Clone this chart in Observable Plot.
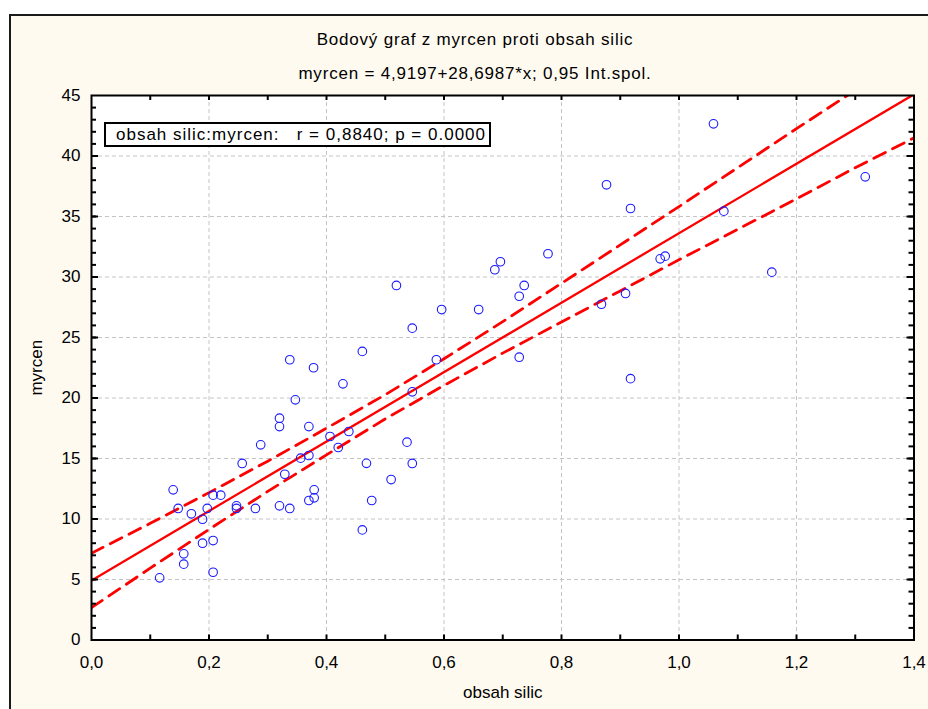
<!DOCTYPE html>
<html>
<head>
<meta charset="utf-8">
<script src="https://cdn.jsdelivr.net/npm/d3@7"></script>
<script src="https://cdn.jsdelivr.net/npm/@observablehq/plot@0.6"></script>
<style>
  html, body { margin: 0; padding: 0; background: #ffffff; }
  body { width: 928px; height: 709px; position: relative; overflow: hidden; font-family: "Liberation Sans", Arial, sans-serif; }
  #panel { position: absolute; left: 9px; top: 14px; width: 940px; height: 720px; background: #fffaf0; border-left: 2px solid #1a1a1a; border-top: 2px solid #1a1a1a; }
  .ttl { position: absolute; left: 0; width: 950px; text-align: center; font-size: 17px; line-height: 20px; letter-spacing: 0.8px; color: #000; }
  #chart { position: absolute; left: 0; top: 85px; }
  #legend { position: absolute; left: 104px; top: 122px; width: 383px; height: 21px; border: 2px solid #000; background: #fff; font-size: 17px; line-height: 21px; letter-spacing: 1px; white-space: pre; box-sizing: content-box; }
  #legend span { position: absolute; left: 10px; top: 0; }
</style>
</head>
<body>
<div id="panel"></div>
<div class="ttl" id="title" style="top:30px"></div>
<div class="ttl" id="subtitle" style="top:64px"></div>
<div id="chart"></div>
<div id="legend"><span id="legendText"></span></div>
<script>
// ---- data ----
const titleText = "Bodový graf z myrcen proti obsah silic";
const subtitleText = "myrcen = 4,9197+28,6987*x; 0,95 Int.spol.";
const legendText = "obsah silic:myrcen:   r = 0,8840; p = 0.0000";
const xLabel = "obsah silic";
const yLabel = "myrcen";

const obsahSilic = [0.116,0.139,0.1475,0.157,0.157,0.170,0.189,0.189,0.197,0.207,0.207,0.207,0.220,0.2468,0.2468,0.2565,0.279,0.288,0.320,0.320,0.320,0.329,0.3375,0.3375,0.347,0.356,0.370,0.370,0.370,0.378,0.379,0.379,0.406,0.420,0.428,0.438,0.461,0.461,0.468,0.477,0.510,0.519,0.537,0.546,0.546,0.546,0.587,0.596,0.659,0.6865,0.696,0.728,0.7365,0.728,0.777,0.868,0.8766,0.909,0.9175,0.9175,0.968,0.9765,1.0587,1.0763,1.158,1.317];
const myrcen     = [5.14,12.41,10.87,7.12,6.27,10.43,9.98,8.00,10.87,11.97,8.22,5.60,11.97,11.09,10.87,14.59,10.87,16.13,18.33,17.64,11.09,13.70,23.16,10.87,19.85,15.03,17.64,15.25,11.53,22.50,12.41,11.75,16.82,15.91,21.17,17.23,23.85,9.10,14.60,11.53,13.26,29.30,16.35,25.77,20.51,14.59,23.16,27.31,27.31,30.60,31.26,28.41,29.30,23.37,31.92,27.75,37.62,28.64,35.66,21.60,31.50,31.72,42.66,35.44,30.40,38.28];

// regression line (from the subtitle) and 0.95 confidence band
const intercept = 4.9197;
const slope = 28.6987;
const lineX = [0, 1.4];
const bandX     = [0, 0.1, 0.2, 0.3, 0.4, 0.5, 0.6, 0.7, 0.8, 0.9, 1.0, 1.1, 1.2, 1.3, 1.4];
const bandUpper = [7.17, 9.64, 12.18, 14.78, 17.50, 20.27, 23.24, 26.31, 29.48, 32.65, 35.82, 39.04, 42.26, 45.43, 48.70];
const bandLower = [2.67, 5.94, 9.14, 12.28, 15.30, 18.27, 21.04, 23.71, 26.28, 28.85, 31.42, 33.94, 36.46, 39.03, 41.50];

const xTickLabels = [0, 0.2, 0.4, 0.6, 0.8, 1.0, 1.2, 1.4];
const yTickLabels = [0, 5, 10, 15, 20, 25, 30, 35, 40, 45];
const xGrid = [0.2, 0.4, 0.6, 0.8, 1.0, 1.2];
const yGrid = [5, 10, 15, 20, 25, 30, 35, 40];
const xMinor = d3.range(1, 14).map(i => i / 10);
const yMinor = d3.range(1, 45);

// ---- build ----
document.getElementById("title").textContent = titleText;
document.getElementById("subtitle").textContent = subtitleText;
document.getElementById("legendText").textContent = legendText;

const W = 928, H = 624;
const mL = 91, mR = 14.5, mT = 10, mB = 69.5;
const innerW = W - mL - mR, innerH = H - mT - mB;

const points = obsahSilic.map((x, i) => ({x, y: myrcen[i]}));
const band = bandX.map((x, i) => ({x, upper: bandUpper[i], lower: bandLower[i]}));
const reg = lineX.map(x => ({x, y: intercept + slope * x}));
const fmt = d => d.toFixed(1).replace(".", ",");

const red = "#ff0000";
const tickLen = 5, majorLen = 7;
const tickStyle = {stroke: "#000", strokeWidth: 2};

const chart = Plot.plot({
  width: W, height: H,
  marginLeft: mL, marginRight: mR, marginTop: mT, marginBottom: mB,
  style: {background: "transparent", fontFamily: "'Liberation Sans', Arial, sans-serif", fontSize: "17px", color: "#000"},
  x: {domain: [0, 1.4]},
  y: {domain: [0, 45]},
  marks: [
    Plot.frame({fill: "#ffffff"}),
    Plot.ruleX(xGrid, {x: d => d, stroke: "#c4c4c4", strokeWidth: 1, strokeDasharray: "4,3"}),
    Plot.ruleY(yGrid, {y: d => d, stroke: "#c4c4c4", strokeWidth: 1, strokeDasharray: "4,3"}),
    Plot.line(band, {x: "x", y: "upper", stroke: red, strokeWidth: 2.8, strokeDasharray: "13,8", clip: true}),
    Plot.line(band, {x: "x", y: "lower", stroke: red, strokeWidth: 2.8, strokeDasharray: "13,8", clip: true}),
    Plot.line(reg, {x: "x", y: "y", stroke: red, strokeWidth: 2.3, clip: true}),
    Plot.dot(points, {x: "x", y: "y", r: 4.3, stroke: "#1a1aff", strokeWidth: 1.1, fill: "none"}),
    // inward ticks: bottom, top, left, right
    Plot.tickX(xMinor, {x: d => d, insetTop: innerH - tickLen, ...tickStyle}),
    Plot.tickX(xMinor, {x: d => d, insetBottom: innerH - tickLen, ...tickStyle}),
    Plot.tickY(yMinor, {y: d => d, insetRight: innerW - tickLen, ...tickStyle}),
    Plot.tickY(yMinor, {y: d => d, insetLeft: innerW - tickLen, ...tickStyle}),
    Plot.tickY(yGrid, {y: d => d, insetRight: innerW - majorLen, ...tickStyle}),
    Plot.tickY(yGrid, {y: d => d, insetLeft: innerW - majorLen, ...tickStyle}),
    Plot.axisX({ticks: xTickLabels, tickSize: 0, tickPadding: 16, tickFormat: fmt, fontSize: 17,
      label: xLabel, labelAnchor: "center", labelOffset: 58, labelArrow: "none"}),
    Plot.axisY({ticks: yTickLabels, tickSize: 0, tickPadding: 11, tickFormat: d => String(d), fontSize: 17,
      label: yLabel, labelAnchor: "center", labelOffset: 62, labelArrow: "none"}),
    Plot.frame({stroke: "#000", strokeWidth: 2})
  ]
});
document.getElementById("chart").appendChild(chart);
</script>
</body>
</html>
